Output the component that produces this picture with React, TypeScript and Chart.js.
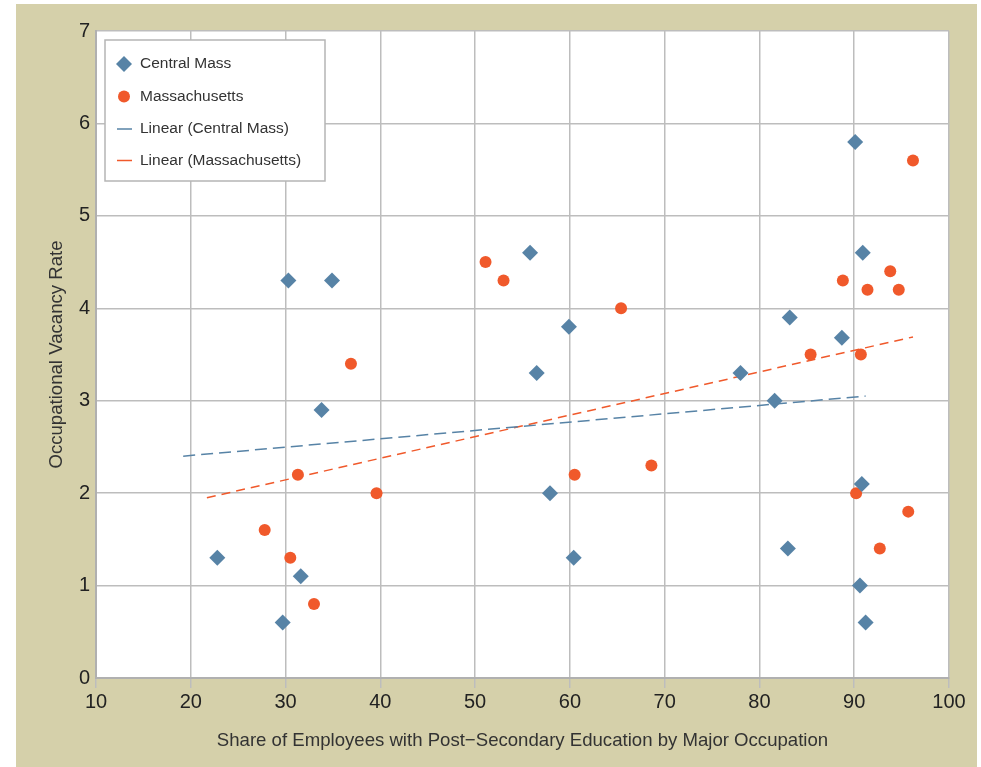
import React, { useEffect, useRef } from "react";
import { Chart, registerables } from "chart.js";

Chart.register(...registerables);

// Central Mass (diamonds)
const centralMassX = [22.8, 29.7, 30.3, 31.6, 33.8, 34.9, 55.8, 56.5, 57.9, 59.9, 60.4, 78.0, 81.6, 83.0, 83.2, 88.7, 90.1, 90.6, 90.8, 90.9, 91.2];
const centralMassY = [1.3, 0.6, 4.3, 1.1, 2.9, 4.3, 4.6, 3.3, 2.0, 3.8, 1.3, 3.3, 3.0, 1.4, 3.9, 3.68, 5.8, 1.0, 2.1, 4.6, 0.6];

// Massachusetts (circles)
const massX = [27.8, 30.5, 31.3, 33.0, 36.9, 39.6, 51.1, 53.0, 60.5, 65.4, 68.6, 85.4, 88.8, 90.2, 90.7, 91.4, 92.7, 93.8, 94.7, 95.7, 96.2];
const massY = [1.6, 1.3, 2.2, 0.8, 3.4, 2.0, 4.5, 4.3, 2.2, 4.0, 2.3, 3.5, 4.3, 2.0, 3.5, 4.2, 1.4, 4.4, 4.2, 1.8, 5.6];

// Linear trend lines (endpoints)
const trendCentralX = [19.2, 91.2];
const trendCentralY = [2.4, 3.05];
const trendMassX = [21.7, 96.2];
const trendMassY = [1.95, 3.69];

const xTicks = [10, 20, 30, 40, 50, 60, 70, 80, 90, 100];
const yTicks = [0, 1, 2, 3, 4, 5, 6, 7];

const seriesNames = ["Central Mass", "Massachusetts", "Linear (Central Mass)", "Linear (Massachusetts)"];
const xTitle = "Share of Employees with Post\u2212Secondary Education by Major Occupation";
const yTitle = "Occupational Vacancy Rate";

const BLUE = "#5783a6";
const ORANGE = "#f0592b";
const BEIGE = "#d5d0aa";
const GRID = "#bdbdbd";
const FONT = "'Liberation Sans', Arial, Helvetica, sans-serif";

const pts = (xs: number[], ys: number[]) => xs.map((x, i) => ({ x, y: ys[i] }));

const bgPlugin = {
  id: "bgPlugin",
  beforeDraw(chart: any) {
    const { ctx, chartArea } = chart;
    ctx.save();
    ctx.fillStyle = "#ffffff";
    ctx.fillRect(0, 0, chart.width, chart.height);
    ctx.fillStyle = BEIGE;
    ctx.fillRect(16, 4, 961, 763);
    ctx.fillStyle = "#ffffff";
    ctx.fillRect(chartArea.left, chartArea.top, chartArea.right - chartArea.left, chartArea.bottom - chartArea.top);
    ctx.restore();
  },
};

const legendPlugin = {
  id: "boxLegend",
  afterDraw(chart: any) {
    const { ctx } = chart;
    const bx = 105, by = 40, bw = 220, bh = 141;
    ctx.save();
    ctx.fillStyle = "#ffffff";
    ctx.fillRect(bx, by, bw, bh);
    ctx.strokeStyle = "#b5b5b5";
    ctx.lineWidth = 1.5;
    ctx.strokeRect(bx, by, bw, bh);
    const ys = [64, 96.5, 129, 160.5];
    const mx = 124;
    const tx = 140;
    ctx.font = `15.5px ${FONT}`;
    ctx.textBaseline = "middle";
    ctx.textAlign = "left";
    chart.data.datasets.forEach((ds: any, i: number) => {
      const y = ys[i];
      if (i === 0) {
        ctx.fillStyle = BLUE;
        ctx.beginPath();
        ctx.moveTo(mx, y - 8);
        ctx.lineTo(mx + 8, y);
        ctx.lineTo(mx, y + 8);
        ctx.lineTo(mx - 8, y);
        ctx.closePath();
        ctx.fill();
      } else if (i === 1) {
        ctx.fillStyle = ORANGE;
        ctx.beginPath();
        ctx.arc(mx, y, 6, 0, Math.PI * 2);
        ctx.fill();
      } else {
        ctx.strokeStyle = i === 2 ? BLUE : ORANGE;
        ctx.lineWidth = 1.5;
        ctx.beginPath();
        ctx.moveTo(117, y);
        ctx.lineTo(132, y);
        ctx.stroke();
      }
      ctx.fillStyle = "#333333";
      ctx.fillText(ds.label, tx, y);
    });
    ctx.restore();
  },
};

export default function App() {
  const ref = useRef<HTMLCanvasElement | null>(null);

  useEffect(() => {
    if (!ref.current) return;
    const chart = new Chart(ref.current, {
      type: "scatter",
      data: {
        datasets: [
          {
            label: seriesNames[0],
            data: pts(centralMassX, centralMassY),
            pointStyle: "rectRot",
            pointRadius: 8,
            backgroundColor: BLUE,
            borderColor: BLUE,
            borderWidth: 0,
          },
          {
            label: seriesNames[1],
            data: pts(massX, massY),
            pointStyle: "circle",
            pointRadius: 6,
            backgroundColor: ORANGE,
            borderColor: ORANGE,
            borderWidth: 0,
          },
          {
            label: seriesNames[2],
            data: pts(trendCentralX, trendCentralY),
            showLine: true,
            pointRadius: 0,
            borderColor: BLUE,
            borderWidth: 1.5,
            borderDash: [12, 6],
          },
          {
            label: seriesNames[3],
            data: pts(trendMassX, trendMassY),
            showLine: true,
            pointRadius: 0,
            borderColor: ORANGE,
            borderWidth: 1.5,
            borderDash: [9, 6],
          },
        ],
      },
      options: {
        responsive: false,
        animation: false,
        layout: { padding: { top: 31, right: 32, left: 0, bottom: 0 } },
        plugins: { legend: { display: false }, tooltip: { enabled: false } },
        scales: {
          x: {
            type: "linear",
            min: 10,
            max: 100,
            afterFit: (s: any) => {
              s.height = 89;
            },
            afterBuildTicks: (s: any) => {
              s.ticks = xTicks.map((v) => ({ value: v }));
            },
            ticks: {
              color: "#222222",
              font: { family: FONT, size: 20 },
              padding: 2,
              maxRotation: 0,
            },
            grid: { color: GRID, lineWidth: 1.5, tickLength: 10, tickColor: GRID, drawTicks: true },
            border: { display: true, color: "#b0b0b0", width: 2 },
            title: {
              display: true,
              text: xTitle,
              color: "#333333",
              font: { family: FONT, size: 18.6 },
              padding: { top: 0, bottom: 14.5 },
            },
          },
          y: {
            type: "linear",
            min: 0,
            max: 7,
            afterFit: (s: any) => {
              s.width = 96;
            },
            afterBuildTicks: (s: any) => {
              s.ticks = yTicks.map((v) => ({ value: v }));
            },
            ticks: {
              color: "#222222",
              font: { family: FONT, size: 20 },
              padding: 6,
            },
            grid: { color: GRID, lineWidth: 1.5, drawTicks: false },
            border: { display: true, color: "#b0b0b0", width: 2 },
            title: {
              display: true,
              text: yTitle,
              color: "#333333",
              font: { family: FONT, size: 18.6 },
              padding: { top: 45.5, bottom: 0 },
            },
          },
        },
      },
      plugins: [bgPlugin, legendPlugin],
    });
    return () => chart.destroy();
  }, []);

  return (
    <div style={{ position: "absolute", left: 0, top: 0, width: 981, height: 767 }}>
      <canvas ref={ref} width={981} height={767} style={{ display: "block", width: 981, height: 767 }} />
    </div>
  );
}
